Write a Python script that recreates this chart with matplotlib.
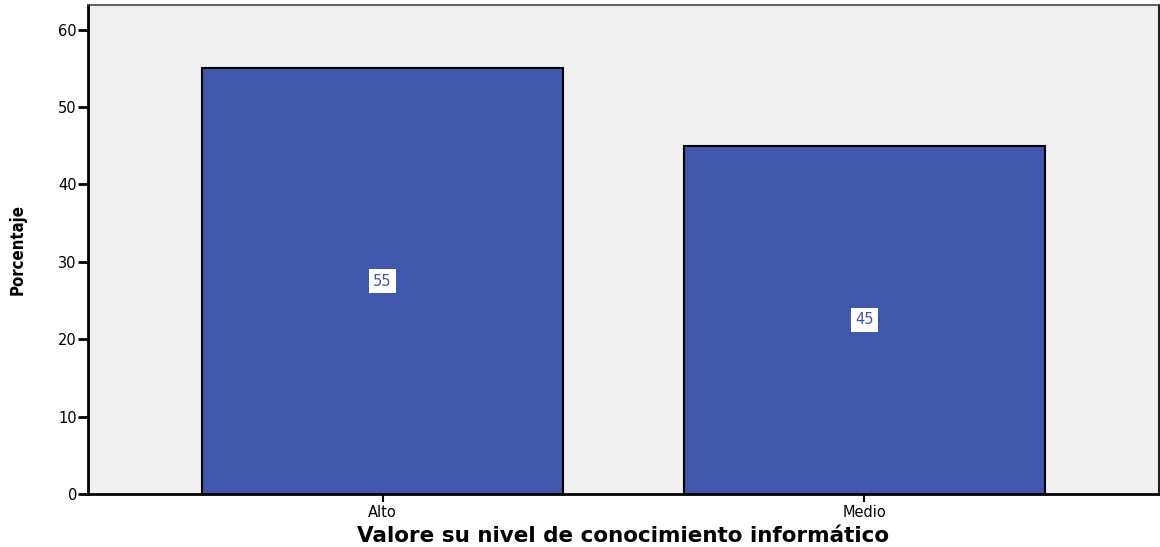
import numpy as np
import matplotlib.pyplot as plt

categories = ["Alto", "Medio"]
percentages = [55, 45]
y_ticks = [0, 10, 20, 30, 40, 50, 60]

fig = plt.figure(figsize=(11.6, 5.47), dpi=100)
ax = fig.add_axes([0.0759, 0.0969, 0.9232, 0.894])

x = np.arange(len(categories))
bars = ax.bar(x, percentages, width=0.75, color="#3f58ab", edgecolor="black", linewidth=1.5, zorder=3)

# value labels in white boxes at mid height
for xi, v in zip(x, percentages):
    ax.text(xi, v / 2, str(v), ha="center", va="center", fontsize=10.5, color="#3f58ab",
            family="DejaVu Sans",
            bbox=dict(facecolor="white", edgecolor="none", pad=3), zorder=4)

ax.set_facecolor("#f0f0f0")
ax.set_xlim(-0.611, 1.611)
ax.set_ylim(0, 63.2)
ax.set_yticks(y_ticks)
ax.set_xticks(x)
ax.set_xticklabels(categories)
for lab in ax.get_xticklabels() + ax.get_yticklabels():
    lab.set_family("DejaVu Sans")
    lab.set_fontsize(10.5)

ax.tick_params(axis="y", direction="out", length=7, width=2, pad=1)
ax.tick_params(axis="x", direction="out", length=6, width=1.5, pad=2)

ax.spines["left"].set_linewidth(2)
ax.spines["bottom"].set_linewidth(2)
ax.spines["top"].set_linewidth(1.2)
ax.spines["right"].set_linewidth(1.5)
ax.spines["top"].set_color("#444444")
ax.spines["right"].set_color("#222222")

ax.set_ylabel("Porcentaje", fontsize=12, fontweight="bold", family="DejaVu Sans",
              fontstretch="condensed", labelpad=23)
ax.set_xlabel("Valore su nivel de conocimiento informático", fontsize=15.5, fontweight="bold",
              family="DejaVu Sans", labelpad=4)

fig.savefig("out.png", dpi=100)
